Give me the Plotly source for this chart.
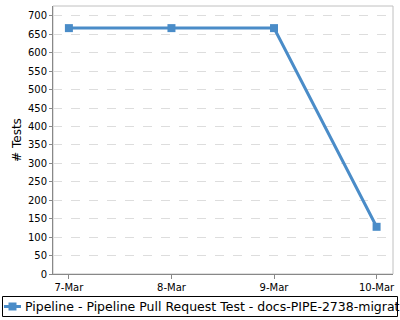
import plotly.graph_objects as go

dates = ["7-Mar", "8-Mar", "9-Mar", "10-Mar"]
tests = [667, 667, 667, 128]
series_name = "Pipeline - Pipeline Pull Request Test - docs-PIPE-2738-migrat"
y_ticks = list(range(0, 701, 50))

color = "#4a8cc8"
L, R, T, B = 53, 7, 6, 46
W, H = 400, 320
pw, ph = W - L - R, H - T - B

def px_x(p):
    return (p - L) / pw

def px_y(p):
    return (H - B - p) / ph

fig = go.Figure()
fig.add_trace(go.Scatter(
    x=dates, y=tests, name=series_name, mode="lines+markers",
    line=dict(color=color, width=3),
    marker=dict(symbol="square", size=8, color=color),
    showlegend=False,
))

shapes = [
    dict(type="rect", xref="paper", yref="paper", x0=0, x1=1, y0=0, y1=1,
         line=dict(color="#c0c0c0", width=1), layer="below"),
    # legend box
    dict(type="rect", xref="paper", yref="paper",
         x0=px_x(2.5), x1=px_x(397.5), y0=px_y(296.5), y1=px_y(316.5),
         line=dict(color="black", width=1), fillcolor="white"),
    # legend line symbol
    dict(type="line", xref="paper", yref="paper",
         x0=px_x(4), x1=px_x(21), y0=px_y(306.5), y1=px_y(306.5),
         line=dict(color=color, width=3)),
    dict(type="rect", xref="paper", yref="paper",
         x0=px_x(8.5), x1=px_x(16.5), y0=px_y(302.5), y1=px_y(310.5),
         line=dict(width=0), fillcolor=color),
]

fig.update_layout(
    width=W, height=H,
    margin=dict(l=L, r=R, t=T, b=B),
    paper_bgcolor="white", plot_bgcolor="white",
    font=dict(family="DejaVu Sans", size=10, color="black"),
    showlegend=False,
    xaxis=dict(
        type="category", range=[-0.155, 3.16],
        showline=True, linecolor="#888888", linewidth=1,
        ticks="outside", ticklen=4, tickcolor="#888888",
        showgrid=False, zeroline=False, mirror=False,
        tickfont=dict(size=10),
    ),
    yaxis=dict(
        range=[0, 727], tickvals=y_ticks,
        showline=True, linecolor="#888888", linewidth=1,
        ticks="outside", ticklen=3, tickcolor="#888888",
        showgrid=True, gridcolor="#dddddd", griddash="dash", gridwidth=1,
        zeroline=False,
        title=dict(text="# Tests", font=dict(size=12), standoff=3),
        tickfont=dict(size=10),
    ),
    shapes=shapes,
    annotations=[dict(
        text=series_name, xref="paper", yref="paper",
        x=px_x(23), y=px_y(306.5), xanchor="left", yanchor="middle",
        showarrow=False, font=dict(size=12.5, color="black"),
    )],
)

fig.write_html("out.html")
